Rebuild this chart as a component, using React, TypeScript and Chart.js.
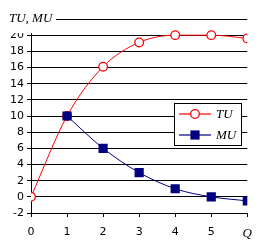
import React, { useEffect, useRef } from "react";
import { Chart, registerables } from "chart.js";

Chart.register(...registerables);

const quantities = [0, 1, 2, 3, 4, 5, 6];
const tuValues = [0, 10, 16.1, 19.1, 20, 20, 19.6];
const muQuantities = [1, 2, 3, 4, 5, 6];
const muValues = [10, 6, 3, 1, 0, -0.5];
const yAxisTitle = "TU, MU";
const xAxisTitle = "Q";
const seriesNames = ["TU", "MU"];

const serif = "'Liberation Serif', 'Times New Roman', serif";
const sans = "'DejaVu Sans', Verdana, sans-serif";

export default function App() {
  const ref = useRef<HTMLCanvasElement>(null);
  useEffect(() => {
    document.body.style.margin = "0";
    const canvas = ref.current!;
    const overlay = {
      id: "overlay",
      afterDraw(chart: any) {
        const { ctx, scales } = chart;
        const y = scales.y;
        const yTop = y.getPixelForValue(22);
        const y20 = y.getPixelForValue(20);
        ctx.save();
        ctx.fillStyle = "#fff";
        ctx.fillRect(0, yTop - 9, y.right + 25, y20 - 2 - (yTop - 9));
        ctx.fillStyle = "#000";
        ctx.font = `italic 13px ${serif}`;
        ctx.textBaseline = "middle";
        ctx.textAlign = "left";
        ctx.fillText(yAxisTitle, 9, yTop);
        // legend
        const bx = 174.5, by = 103.5, bw = 67, bh = 42;
        ctx.fillStyle = "#fff";
        ctx.fillRect(bx, by, bw, bh);
        ctx.strokeStyle = "#000";
        ctx.lineWidth = 1;
        ctx.strokeRect(bx, by, bw, bh);
        const rows = [114, 135];
        chart.data.datasets.forEach((ds: any, i: number) => {
          const ry = rows[i];
          ctx.strokeStyle = ds.borderColor;
          ctx.lineWidth = 1.2;
          ctx.beginPath();
          ctx.moveTo(179, ry);
          ctx.lineTo(211, ry);
          ctx.stroke();
          if (ds.pointStyle === "circle") {
            ctx.fillStyle = ds.pointBackgroundColor;
            ctx.strokeStyle = ds.pointBorderColor;
            ctx.lineWidth = ds.pointBorderWidth;
            ctx.beginPath();
            ctx.arc(195, ry, ds.pointRadius, 0, Math.PI * 2);
            ctx.fill();
            ctx.stroke();
          } else {
            const s = Math.SQRT1_2 * ds.pointRadius;
            ctx.fillStyle = ds.pointBackgroundColor;
            ctx.fillRect(195 - s, ry - s, 2 * s, 2 * s);
          }
          ctx.fillStyle = "#000";
          ctx.font = `italic 13px ${serif}`;
          ctx.textAlign = "left";
          ctx.fillText(ds.label, 216, ry + 1);
        });
        ctx.restore();
      },
    };
    const chart = new Chart(canvas, {
      type: "line",
      data: {
        datasets: [
          {
            label: seriesNames[0],
            data: quantities.map((q, i) => ({ x: q, y: tuValues[i] })),
            borderColor: "#ff0000",
            borderWidth: 1,
            pointStyle: "circle",
            pointRadius: 4.3,
            pointBackgroundColor: "#ffffff",
            pointBorderColor: "#ff0000",
            pointBorderWidth: 1.3,
            tension: 0.35,
            cubicInterpolationMode: "monotone",
            order: 2,
          } as any,
          {
            label: seriesNames[1],
            data: muQuantities.map((q, i) => ({ x: q, y: muValues[i] })),
            borderColor: "#000080",
            borderWidth: 1,
            pointStyle: "rect",
            pointRadius: 6.5,
            pointBackgroundColor: "#000080",
            pointBorderColor: "#000080",
            pointBorderWidth: 0,
            tension: 0.35,
            cubicInterpolationMode: "monotone",
            order: 1,
          } as any,
        ],
      },
      options: {
        animation: false,
        responsive: false,
        layout: { padding: { top: 19, right: 13, left: 0, bottom: 0 } },
        plugins: { legend: { display: false }, tooltip: { enabled: false } },
        scales: {
          x: {
            type: "linear",
            min: 0,
            max: 6,
            afterFit: (s: any) => {
              s.height = 39;
            },
            grid: {
              drawOnChartArea: false,
              drawTicks: true,
              tickLength: 4,
              color: "#000",
            },
            border: { display: true, color: "#000" },
            ticks: {
              stepSize: 1,
              autoSkip: false,
              maxRotation: 0,
              padding: 9,
              color: "#000",
              callback: (v: any) => (v === 6 ? xAxisTitle : String(v)),
              font: (c: any) =>
                c.tick && c.tick.value === 6
                  ? { family: serif, size: 13, style: "italic" }
                  : { family: sans, size: 11 },
            },
          },
          y: {
            min: -2,
            max: 22,
            afterFit: (s: any) => {
              s.width = 31;
            },
            grid: {
              color: "#000",
              lineWidth: 1,
              tickLength: 4,
            },
            border: { display: true, color: "#000" },
            ticks: {
              stepSize: 2,
              autoSkip: false,
              padding: 3,
              color: "#000",
              font: { family: sans, size: 11 },
              callback: (v: any) => (v === 22 ? "" : String(v)),
            },
          },
        },
      },
      plugins: [overlay],
    });
    return () => chart.destroy();
  }, []);
  return <canvas ref={ref} width={261} height={252} style={{ display: "block" }} />;
}
